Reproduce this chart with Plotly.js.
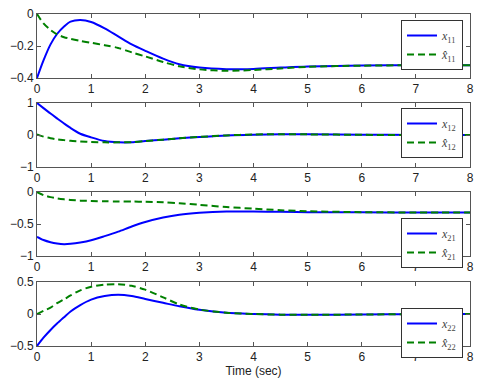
<!DOCTYPE html>
<html>
<head>
<meta charset="utf-8">
<script src="https://cdn.plot.ly/plotly-3.0.1.min.js"></script>
<style>html,body{margin:0;padding:0;background:#fff;}#chart{width:480px;height:383px;}</style>
</head>
<body>
<div id="chart"></div>
<script>
// Time grid (sec)
var t = [0, 0.12, 0.25, 0.37, 0.5, 0.62, 0.8, 1.0, 1.25, 1.5, 1.75, 2.0, 2.33, 2.63, 3.0, 3.5, 4.0, 4.5, 5.0, 6.0, 7.0, 8.0];

// Panel 1
var x11  = [-0.4, -0.29, -0.19, -0.125, -0.078, -0.048, -0.038, -0.05, -0.09, -0.14, -0.19, -0.23, -0.279, -0.314, -0.335, -0.345, -0.343, -0.335, -0.328, -0.322, -0.32, -0.32];
var xh11 = [0, -0.059, -0.1, -0.127, -0.145, -0.155, -0.168, -0.18, -0.195, -0.212, -0.24, -0.265, -0.3, -0.327, -0.346, -0.355, -0.35, -0.34, -0.33, -0.323, -0.32, -0.32];
// Panel 2
var x12  = [1, 0.84, 0.67, 0.52, 0.36, 0.22, 0.04, -0.075, -0.19, -0.23, -0.23, -0.19, -0.147, -0.105, -0.063, -0.015, 0.01, 0.02, 0.02, 0.01, 0.0, 0.0];
var xh12 = [0.02, -0.05, -0.1, -0.135, -0.16, -0.18, -0.2, -0.22, -0.23, -0.23, -0.225, -0.19, -0.145, -0.105, -0.06, -0.012, 0.015, 0.025, 0.02, 0.005, 0.0, 0.0];
// Panel 3
var x21  = [-0.7, -0.75, -0.785, -0.805, -0.815, -0.81, -0.79, -0.755, -0.69, -0.62, -0.54, -0.47, -0.4, -0.355, -0.325, -0.305, -0.305, -0.31, -0.315, -0.318, -0.32, -0.32];
var xh21 = [0, -0.05, -0.08, -0.1, -0.115, -0.125, -0.135, -0.14, -0.145, -0.148, -0.15, -0.152, -0.16, -0.175, -0.2, -0.235, -0.26, -0.285, -0.3, -0.315, -0.32, -0.32];
// Panel 4
var x22  = [-0.5, -0.37, -0.25, -0.15, -0.05, 0.04, 0.14, 0.225, 0.28, 0.3, 0.28, 0.235, 0.175, 0.12, 0.065, 0.018, 0.0, -0.01, -0.012, -0.008, -0.003, 0.0];
var xh22 = [0, 0.05, 0.1, 0.17, 0.23, 0.29, 0.37, 0.425, 0.46, 0.465, 0.44, 0.38, 0.26, 0.15, 0.07, 0.02, 0.0, -0.01, -0.012, -0.008, -0.003, 0.0];

var subs = ['11', '12', '21', '22'];
var trueSeries = [x11, x12, x21, x22];
var estSeries = [xh11, xh12, xh21, xh22];
var yRanges = [[-0.4, 0], [-1, 1], [-1, 0], [-0.5, 0.5]];
var yTicks = [[-0.4, -0.2, 0], [-1, 0, 1], [-1, -0.5, 0], [-0.5, 0, 0.5]];
var yTickText = [['\u22120.4', '\u22120.2', '0'], ['\u22121', '0', '1'], ['\u22121', '\u22120.5', '0'], ['\u22120.5', '0', '0.5']];
var xTicks = [0, 1, 2, 3, 4, 5, 6, 7, 8];

var H = 383;
var panelTop = [14, 103, 192, 282];
var panelBot = [78, 167, 256, 346];
var legendTop = [20, 108, 218, 308];

var blue = '#0000ff', green = '#008000';
var traces = [];
var layout = {
  width: 480, height: 383,
  margin: {l: 37, r: 10, t: 0, b: 0},
  paper_bgcolor: '#fff', plot_bgcolor: '#fff',
  font: {family: 'Liberation Sans, Arial, sans-serif', size: 12, color: '#222'},
  showlegend: true
};

for (var i = 0; i < 4; i++) {
  var n = i === 0 ? '' : String(i + 1);
  var lg = i === 0 ? 'legend' : 'legend' + (i + 1);
  traces.push({
    x: t, y: trueSeries[i], xaxis: 'x' + n, yaxis: 'y' + n, legend: lg,
    type: 'scatter', mode: 'lines', line: {color: blue, width: 2, shape: 'spline', smoothing: 0.8},
    name: '<i>x</i><sub>' + subs[i] + '</sub>'
  });
  traces.push({
    x: t, y: estSeries[i], xaxis: 'x' + n, yaxis: 'y' + n, legend: lg,
    type: 'scatter', mode: 'lines', line: {color: green, width: 2, dash: '7px,4px', shape: 'spline', smoothing: 0.8},
    name: '<i>x\u0302</i><sub>' + subs[i] + '</sub>'
  });
  var axBase = {
    showgrid: false, zeroline: false, showline: true, linecolor: '#555', linewidth: 1,
    mirror: 'ticks', ticks: 'inside', ticklen: 4, tickcolor: '#555',
    tickfont: {size: 12, color: '#222'}
  };
  var xa = Object.assign({}, axBase, {
    anchor: 'y' + n, range: [0, 8], tickvals: xTicks, ticktext: xTicks.map(String)
  });
  if (i === 3) {
    xa.title = {text: 'Time (sec)', font: {size: 12, color: '#222'}, standoff: 2};
  }
  var ya = Object.assign({}, axBase, {
    anchor: 'x' + n, range: yRanges[i], tickvals: yTicks[i], ticktext: yTickText[i],
    domain: [1 - panelBot[i] / H, 1 - panelTop[i] / H]
  });
  layout['xaxis' + n] = xa;
  layout['yaxis' + n] = ya;
  layout[lg] = {
    x: (463 - 37) / 433, xanchor: 'right', xref: 'paper',
    y: 1 - legendTop[i] / H, yanchor: 'top', yref: 'paper',
    bgcolor: '#fff', bordercolor: '#333', borderwidth: 1,
    font: {family: 'Liberation Serif, serif', size: 12, color: '#444'},
    tracegroupgap: 0, itemwidth: 30
  };
}

Plotly.newPlot('chart', traces, layout, {displayModeBar: false, staticPlot: true});
</script>
</body>
</html>
